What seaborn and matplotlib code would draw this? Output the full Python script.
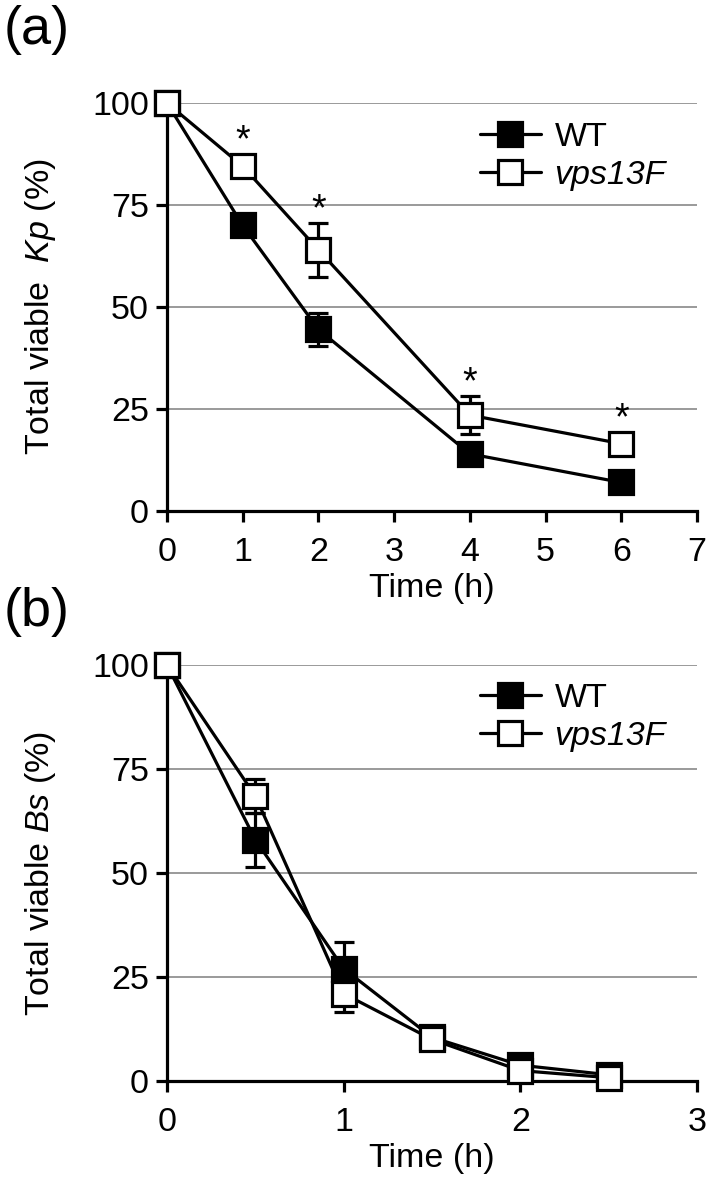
import numpy as np
import pandas as pd
import matplotlib
matplotlib.use("Agg")
import matplotlib.pyplot as plt
import seaborn as sns

sns.set_theme(style="white")
plt.rcParams['font.family'] = ['Liberation Sans', 'DejaVu Sans']
plt.rcParams['mathtext.fontset'] = 'custom'
plt.rcParams['mathtext.rm'] = 'Liberation Sans'
plt.rcParams['mathtext.it'] = 'Liberation Sans:italic'
for key in ['text.color', 'axes.labelcolor', 'xtick.color', 'ytick.color']:
    plt.rcParams[key] = 'black'

# --- Daten ---
# (a) Kp
time_a = [0, 1, 2, 4, 6]
wt_a = [100, 70, 44.5, 14, 7]
wt_a_err = [0, 1.5, 4, 1.5, 1]
mut_a = [100, 84.5, 64, 23.5, 16.5]
mut_a_err = [0, 2, 6.7, 4.7, 1.5]
stars_a = [False, True, True, True, True]

# (b) Bs
time_b = [0, 0.5, 1, 1.5, 2, 2.5]
wt_b = [100, 58, 27, 10.5, 3.8, 1.5]
wt_b_err = [0, 6.5, 6.5, 2, 1.5, 1]
mut_b = [100, 68.5, 21, 10, 2.5, 0.8]
mut_b_err = [0, 4, 4.5, 2, 1, 1]

strains = ['WT', 'vps13F']
yticks = [0, 25, 50, 75, 100]

LW = 2.3
MS = 17
FS = 24.5


def draw_panel(ax, t, wt, wt_err, mut, mut_err, xmax, ylabel, legend_y, stars=None):
    df = pd.DataFrame({
        'time': list(t) * 2,
        'value': list(wt) + list(mut),
        'err': list(wt_err) + list(mut_err),
        'strain': [strains[0]] * len(t) + [strains[1]] * len(t),
    })
    faces = {'WT': 'black', 'vps13F': 'white'}
    for i, s in enumerate(strains):
        sub = df[df['strain'] == s]
        ax.errorbar(sub['time'], sub['value'], yerr=sub['err'], fmt='none',
                    ecolor='black', elinewidth=LW, capsize=7.5, capthick=LW,
                    zorder=2 + 2 * i, clip_on=False)
        sns.lineplot(data=sub, x='time', y='value', ax=ax, color='black',
                     linewidth=LW, marker='s', markersize=MS,
                     markerfacecolor=faces[s], markeredgecolor='black',
                     markeredgewidth=LW, label=s, zorder=3 + 2 * i,
                     clip_on=False)

    # Signifikanz-Sterne über vps13F
    if stars is not None:
        sub = df[df['strain'] == 'vps13F'].reset_index(drop=True)
        for k, flag in enumerate(stars):
            if not flag:
                continue
            top = max(sub.loc[k, 'value'] + sub.loc[k, 'err'],
                      sub.loc[k, 'value'] + 3.0)
            ax.annotate('*', (sub.loc[k, 'time'], top), xytext=(0, -4),
                        textcoords='offset points', ha='center', va='bottom',
                        fontsize=27, zorder=10)

    ax.set_xlim(0, xmax)
    ax.set_ylim(0, 100)
    ax.set_xticks(range(0, xmax + 1))
    ax.set_yticks(yticks)
    ax.yaxis.grid(True, color='#7f7f7f', linewidth=1.1)
    ax.xaxis.grid(False)
    for side in ['top', 'right']:
        ax.spines[side].set_visible(False)
    for side in ['left', 'bottom']:
        ax.spines[side].set_linewidth(LW)
        ax.spines[side].set_color('black')
    ax.tick_params(axis='both', direction='out', length=8, width=LW,
                   labelsize=FS, colors='black', left=True, bottom=True)
    ax.tick_params(axis='x', pad=11)
    ax.tick_params(axis='y', pad=5)
    ax.set_xlabel('Time (h)', fontsize=FS, labelpad=3)
    ax.set_ylabel(ylabel, fontsize=FS)
    ax.yaxis.set_label_coords(-0.205, 0.5)

    leg = ax.legend(loc='center left', bbox_to_anchor=(0.59, legend_y),
                    frameon=False, fontsize=FS, handlelength=1.8,
                    handletextpad=0.4, labelspacing=0.2, borderpad=0,
                    borderaxespad=0)
    leg.get_texts()[1].set_fontstyle('italic')


fig = plt.figure(figsize=(7.09, 11.87), dpi=100)
W, H = 709, 1187
ax_a = fig.add_axes([167 / W, 1 - 511 / H, (697 - 167) / W, (511 - 103) / H])
ax_b = fig.add_axes([167 / W, 1 - 1081 / H, (697 - 167) / W, (1081 - 665) / H])

draw_panel(ax_a, time_a, wt_a, wt_a_err, mut_a, mut_a_err, 7,
           r'Total viable  $\mathit{Kp}$ (%)', 0.869, stars=stars_a)
draw_panel(ax_b, time_b, wt_b, wt_b_err, mut_b, mut_b_err, 3,
           r'Total viable $\mathit{Bs}$ (%)', 0.874)

fig.text(0.005, 1 - 30 / H, '(a)', fontsize=39, va='center', ha='left')
fig.text(0.005, 1 - 612 / H, '(b)', fontsize=39, va='center', ha='left')

fig.savefig('out.png', dpi=100)
